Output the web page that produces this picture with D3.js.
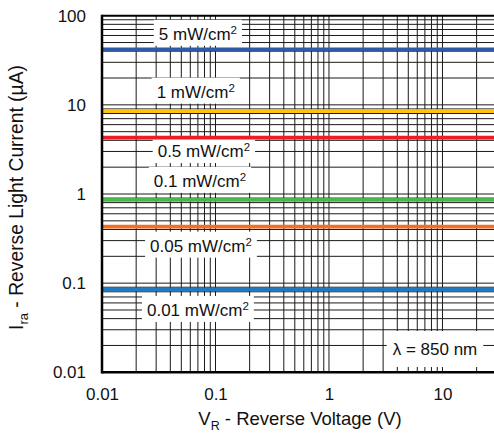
<!DOCTYPE html>
<html>
<head>
<meta charset="utf-8">
<script src="https://cdn.jsdelivr.net/npm/d3@7"></script>
<style>
  body { margin: 0; background: #fff; }
  text { font-family: "Liberation Sans", Arial, sans-serif; fill: #111; }
</style>
</head>
<body>
<svg id="chart"></svg>
<script>
// irradiance levels (mW/cm2) and the reverse light current they give (uA)
const irradiance = ["5", "1", "0.5", "0.1", "0.05", "0.01"];
const currents = [42, 8.5, 4.3, 0.86, 0.43, 0.085];
const seriesColors = ["#2E5AA6", "#FFC20E", "#EE1D25", "#4CB749", "#F26E22", "#1F7AC1"];

const xTicks = [0.01, 0.1, 1, 10];
const yTicks = [0.01, 0.1, 1, 10, 100];

// where the label of each line sits (voltage of text centre, pixel offset of baseline from line)
const labelVolt = [0.07, 0.067, 0.079, 0.073, 0.0745, 0.07];
const labelDy = [-9.5, -13.5, 19.5, -13, 25, 26.5];

const width = 494, height = 436;
const margin = {left: 102, top: 15.7, bottom: 372.3};

const svg = d3.select("#chart")
  .attr("width", width)
  .attr("height", height);

const x = d3.scaleLog().domain([0.01, 30]).range([margin.left, 496.6]);
const y = d3.scaleLog().domain([0.01, 100]).range([margin.bottom, margin.top]);

// log grid: 1..9 in every decade
const gridVals = (lo, hi) => {
  let out = [];
  for (let e = Math.log10(lo); e < Math.log10(hi); e++)
    for (let k = 1; k <= 9; k++) {
      let v = k * Math.pow(10, e);
      if (v >= lo && v <= hi) out.push(+v.toPrecision(3));
    }
  return out;
};

const grid = svg.append("g").attr("class", "grid");
grid.selectAll(".vgrid")
  .data(gridVals(0.01, 30).filter(v => v > 0.01))
  .join("line")
    .attr("class", "vgrid")
    .attr("x1", d => x(d)).attr("x2", d => x(d))
    .attr("y1", margin.top).attr("y2", margin.bottom)
    .style("stroke", "#1a1a1a")
    .style("stroke-width", 1);

grid.selectAll(".hgrid")
  .data(gridVals(0.01, 100).filter(v => v > 0.01 && v < 100))
  .join("line")
    .attr("class", "hgrid")
    .attr("x1", margin.left).attr("x2", width)
    .attr("y1", d => y(d)).attr("y2", d => y(d))
    .style("stroke", "#1a1a1a")
    .style("stroke-width", 1);

// labels with white boxes over the grid
const labels = svg.append("g");
irradiance.forEach((lvl, i) => {
  const g = labels.append("g");
  const t = g.append("text")
    .attr("x", x(labelVolt[i]))
    .attr("y", y(currents[i]) + labelDy[i])
    .attr("text-anchor", "middle")
    .style("font-size", "17px");
  t.append("tspan").text(lvl + " mW/cm");
  t.append("tspan").text("2").attr("dy", -6).style("font-size", "11.5px");
  const b = t.node().getBBox();
  g.insert("rect", "text")
    .attr("x", b.x - 5).attr("y", b.y - 4)
    .attr("width", b.width + 10).attr("height", b.height + 6)
    .style("fill", "#fff");
});

// wavelength note
{
  const g = labels.append("g");
  const t = g.append("text")
    .attr("x", 435).attr("y", 355)
    .attr("text-anchor", "middle")
    .style("font-size", "17px")
    .text("λ = 850 nm");
  const b = t.node().getBBox();
  g.insert("rect", "text")
    .attr("x", b.x - 6).attr("y", b.y - 9)
    .attr("width", b.width + 12).attr("height", b.height + 17)
    .style("fill", "#fff");
}

// the series lines
const line = d3.line().x(d => x(d[0])).y(d => y(d[1]));
svg.append("g").selectAll("path")
  .data(currents)
  .join("path")
    .attr("d", d => line([[0.01, d], [30, d]]))
    .style("fill", "none")
    .style("stroke", (d, i) => seriesColors[i])
    .style("stroke-width", 3.8);

// frame
const frame = svg.append("g").style("stroke", "#000");
frame.append("line").attr("x1", margin.left).attr("x2", width)
  .attr("y1", margin.top).attr("y2", margin.top).style("stroke-width", 2);
frame.append("line").attr("x1", margin.left).attr("x2", width)
  .attr("y1", margin.bottom).attr("y2", margin.bottom).style("stroke-width", 2.5);
frame.append("line").attr("x1", margin.left).attr("x2", margin.left)
  .attr("y1", margin.top - 1).attr("y2", margin.bottom + 1.2).style("stroke-width", 2.5);

// axes (labels only)
const fmt = d => d3.format("~g")(d);
const xAxis = svg.append("g")
  .attr("transform", `translate(0,${margin.bottom})`)
  .call(d3.axisBottom(x).tickValues(xTicks).tickFormat(fmt).tickSize(0).tickPadding(15.5));
const yAxis = svg.append("g")
  .attr("transform", `translate(${margin.left},0)`)
  .call(d3.axisLeft(y).tickValues(yTicks).tickFormat(fmt).tickSize(0).tickPadding(16));
[xAxis, yAxis].forEach(a => {
  a.select(".domain").remove();
  a.selectAll("text").style("font-size", "17px").style("font-family", '"Liberation Sans", Arial, sans-serif').attr("fill", "#111");
});

// axis titles
const xt = svg.append("text")
  .attr("x", 300).attr("y", 424.5)
  .attr("text-anchor", "middle")
  .style("font-size", "18.5px");
xt.append("tspan").text("V");
xt.append("tspan").text("R").attr("dy", 5).style("font-size", "12.5px");
xt.append("tspan").text(" - Reverse Voltage (V)").attr("dy", -5);

const yt = svg.append("text")
  .attr("transform", "translate(22.7,197.5) rotate(-90)")
  .attr("text-anchor", "middle")
  .style("font-size", "19.3px");
yt.append("tspan").text("I");
yt.append("tspan").text("ra").attr("dy", 5).style("font-size", "13px");
yt.append("tspan").text(" - Reverse Light Current (µA)").attr("dy", -5);
</script>
</body>
</html>
